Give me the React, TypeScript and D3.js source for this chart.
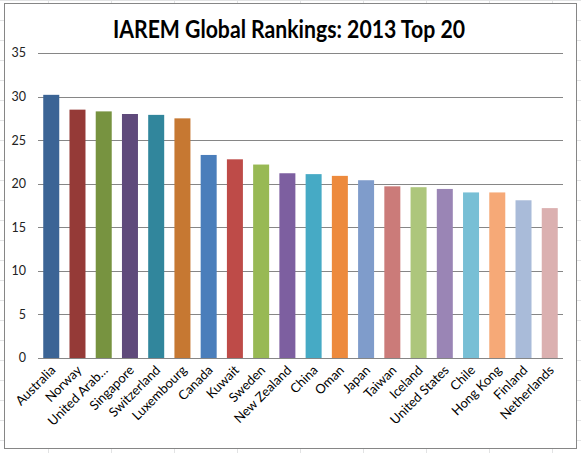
import React, { useEffect } from 'react';
import * as d3 from 'd3';

const countries = [
  'Australia', 'Norway', 'United Arab…', 'Singapore', 'Switzerland', 'Luxembourg',
  'Canada', 'Kuwait', 'Sweden', 'New Zealand', 'China', 'Oman', 'Japan', 'Taiwan',
  'Iceland', 'United States', 'Chile', 'Hong Kong', 'Finland', 'Netherlands',
];

const scores = [
  30.2, 28.5, 28.3, 28.0, 27.9, 27.5, 23.3, 22.8, 22.2, 21.2,
  21.1, 20.9, 20.4, 19.7, 19.6, 19.4, 19.0, 19.0, 18.1, 17.2,
];

const barColors = [
  '#3b6495', '#953a37', '#779340', '#5f4a7b', '#31869c', '#c67832',
  '#4a7ebb', '#be4b48', '#98b954', '#7d5fa0', '#46aac5', '#ed8a3d',
  '#7f9ccb', '#cb7b79', '#adc67c', '#9a85b5', '#78bfd5', '#f6a977',
  '#a9bbd9', '#dbb0b0',
];

const yTicks = [0, 5, 10, 15, 20, 25, 30, 35];

const W = 581;
const H = 453;
const plot = { left: 38, right: 563, top: 53, bottom: 358 };

const App: React.FC = () => {
  useEffect(() => {
    document.body.style.margin = '0';
  }, []);

  const x = d3.scaleBand<string>()
    .domain(countries)
    .range([plot.left, plot.right])
    .paddingInner(0.39)
    .paddingOuter(0.2);

  const y = d3.scaleLinear()
    .domain([0, 35])
    .range([plot.bottom, plot.top]);

  const font = 'Lato, "Open Sans", sans-serif';

  // faint spreadsheet cells behind the chart object
  const rows = d3.range(0, H, 20);
  const cols = d3.range(48, W, 63);

  return (
    <svg width={W} height={H} style={{ position: 'absolute', left: 0, top: 0 }}>
      <rect width={W} height={H} fill="#fff" />
      {rows.map((r) => (
        <line key={'r' + r} x1={0} x2={W} y1={r + 0.5} y2={r + 0.5} stroke="#e2e3e4" />
      ))}
      {cols.map((c) => (
        <line key={'c' + c} x1={c + 0.5} x2={c + 0.5} y1={0} y2={H} stroke="#e2e3e4" />
      ))}
      <rect x={4.5} y={3.5} width={572} height={445} fill="#fff" stroke="#868686" />

      <text
        x={289}
        y={38}
        textAnchor="middle"
        fontFamily={font}
        fontWeight="bold"
        fontSize={25}
        textLength={352}
        lengthAdjust="spacingAndGlyphs"
        fill="#000"
      >
        IAREM Global Rankings: 2013 Top 20
      </text>

      {yTicks.map((t) => (
        <g key={t}>
          <line
            x1={plot.left}
            x2={plot.right}
            y1={Math.round(y(t)) + 0.5}
            y2={Math.round(y(t)) + 0.5}
            stroke="#868686"
          />
          <text
            x={26}
            y={y(t)}
            dy="0.35em"
            textAnchor="end"
            fontFamily={font}
            fontSize={12.5}
            fill="#222"
          >
            {t}
          </text>
        </g>
      ))}

      {countries.map((c, i) => (
        <rect
          key={c}
          x={x(c)}
          y={y(scores[i])}
          width={x.bandwidth()}
          height={y(0) - y(scores[i])}
          fill={barColors[i]}
        />
      ))}

      <line
        x1={plot.left}
        x2={plot.right}
        y1={Math.round(y(0)) + 0.5}
        y2={Math.round(y(0)) + 0.5}
        stroke="#868686"
      />

      {countries.map((c) => {
        const cx = (x(c) ?? 0) + x.bandwidth() / 2 + 5;
        return (
          <text
            key={'l' + c}
            transform={`translate(${cx},371) rotate(-45)`}
            textAnchor="end"
            fontFamily={font}
            fontSize={13}
            fill="#000"
          >
            {c}
          </text>
        );
      })}
    </svg>
  );
};

export default App;
